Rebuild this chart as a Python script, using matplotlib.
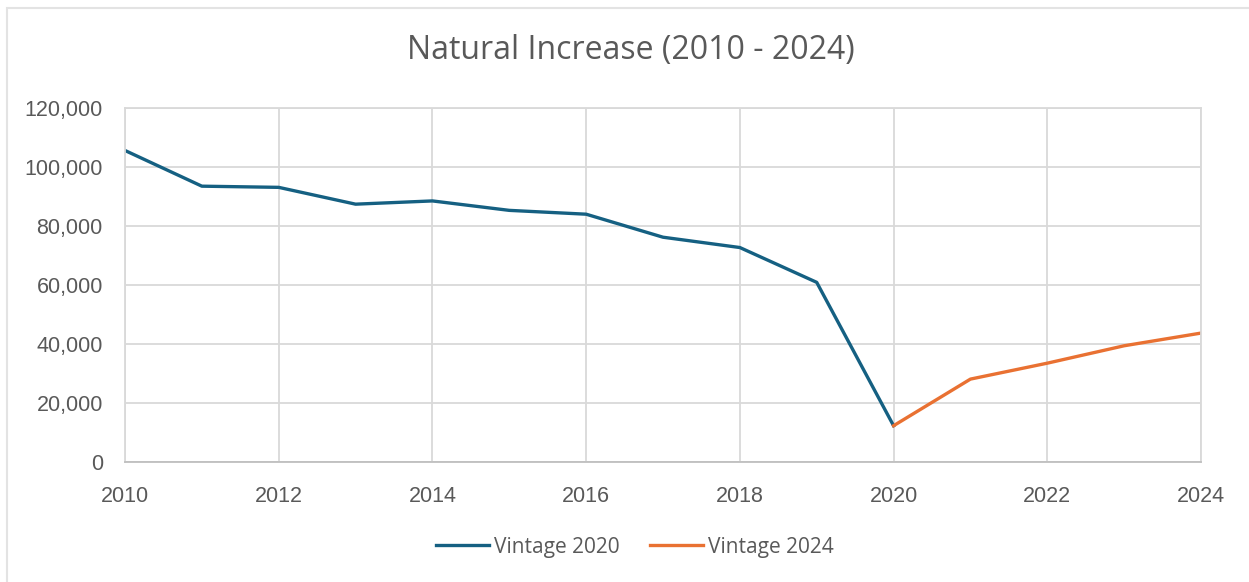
import matplotlib.pyplot as plt
from matplotlib.ticker import FuncFormatter
from matplotlib.patches import Rectangle

# data
years_2020 = [2010, 2011, 2012, 2013, 2014, 2015, 2016, 2017, 2018, 2019, 2020]
vintage_2020 = [105600, 93500, 93100, 87400, 88500, 85300, 84000, 76200, 72700, 60900, 12300]

years_2024 = [2020, 2021, 2022, 2023, 2024]
vintage_2024 = [12300, 28100, 33500, 39400, 43700]

x_ticks = [2010, 2012, 2014, 2016, 2018, 2020, 2022, 2024]
y_ticks = [0, 20000, 40000, 60000, 80000, 100000, 120000]

blue = "#156082"
orange = "#E97132"
text_gray = "#595959"
grid_gray = "#d9d9d9"

fig = plt.figure(figsize=(12.49, 5.82), dpi=100)
ax = fig.add_axes([125 / 1249, 1 - 462 / 582, (1201 - 125) / 1249, (462 - 108) / 582])

# chart-area frame (cropped on the right and bottom in the source)
fig.patches.append(Rectangle((7 / 1249, -10 / 582), 1260 / 1249, 584 / 582,
                             transform=fig.transFigure, fill=False,
                             edgecolor="#e3e3e3", linewidth=1.5))

ax.plot(years_2020, vintage_2020, color=blue, linewidth=2.4,
        solid_joinstyle="round", label="Vintage 2020")
ax.plot(years_2024, vintage_2024, color=orange, linewidth=2.4,
        solid_joinstyle="round", label="Vintage 2024")

ax.set_xlim(2010, 2024)
ax.set_ylim(0, 120000)
ax.set_xticks(x_ticks)
ax.set_yticks(y_ticks)
ax.yaxis.set_major_formatter(FuncFormatter(lambda v, p: f"{int(v):,}"))

ax.grid(True, color=grid_gray, linewidth=1.3)
ax.set_axisbelow(True)
for side in ["top", "right", "left"]:
    ax.spines[side].set_color(grid_gray)
    ax.spines[side].set_linewidth(1.3)
ax.spines["bottom"].set_color("#bfbfbf")
ax.spines["bottom"].set_linewidth(1.3)

ax.tick_params(length=0, labelcolor=text_gray, labelsize=15.5)
ax.tick_params(axis="x", pad=17)
ax.tick_params(axis="y", pad=16)
for lbl in ax.get_xticklabels() + ax.get_yticklabels():
    lbl.set_fontfamily("Liberation Sans")

fig.text(631 / 1249, 1 - 50 / 582, "Natural Increase (2010 - 2024)",
         ha="center", va="center", fontsize=23, color=text_gray,
         fontfamily="Open Sans")

leg = fig.legend(loc="center", bbox_to_anchor=(635 / 1249, 1 - 547 / 582),
                 ncol=2, frameon=False, handlelength=2.55, handletextpad=0.25,
                 columnspacing=1.45,
                 prop={"family": "Open Sans", "size": 15})
for t in leg.get_texts():
    t.set_color(text_gray)

fig.savefig("out.png", dpi=100, facecolor="white")
